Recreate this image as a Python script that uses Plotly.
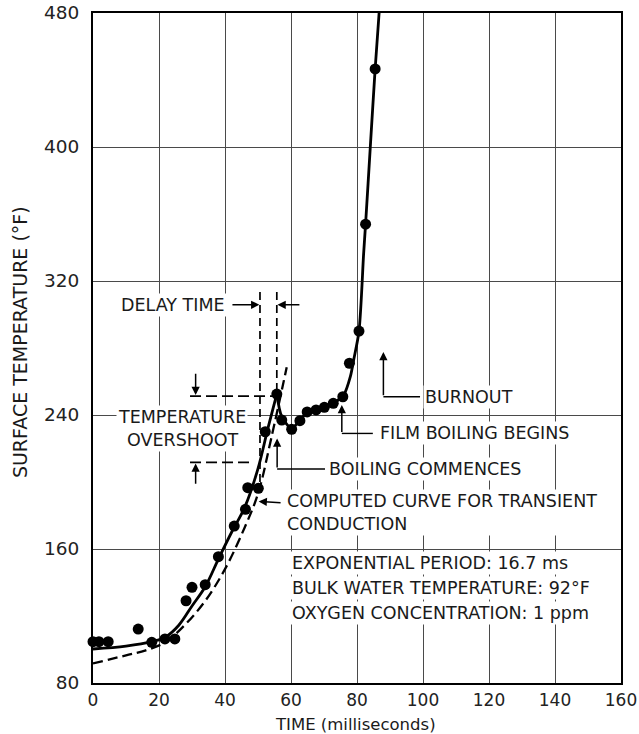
import plotly.graph_objects as go

# ---- data ----
x_ticks = [0, 20, 40, 60, 80, 100, 120, 140, 160]
y_ticks = [80, 160, 240, 320, 400, 480]

pts_x = [0.0, 1.8, 4.6, 13.7, 17.8, 21.8, 24.8, 28.2, 30.0, 34.0, 38.0, 42.8, 46.2, 46.9,
         50.1, 52.2, 55.7, 57.2, 60.2, 62.7, 64.9, 67.6, 70.1, 72.8, 75.7, 77.7, 80.6, 82.6, 85.5]
pts_y = [104.7, 104.7, 104.7, 112.2, 104.3, 106.3, 106.3, 129.1, 137.1, 138.7, 155.4, 173.7, 183.7, 196.6,
         196.2, 230.0, 252.5, 237.0, 231.5, 236.6, 241.8, 243.0, 244.6, 247.0, 250.9, 270.9, 290.1, 353.9, 446.6]

rise_x = [0, 10, 18, 22, 26, 30, 34, 38, 42, 46, 50, 53, 55.7]
rise_y = [100.3, 102, 104.8, 107.5, 114.5, 126, 137.5, 154, 170, 185, 208, 232, 252.5]

post_x = [55.7, 57.2, 60.2, 62.7, 65, 70, 74, 76, 78, 79, 80.6, 82, 82.6, 84, 85.5, 86.7]
post_y = [252.5, 239, 232, 237, 241.5, 245, 248.5, 252, 263, 273, 290, 336, 354, 399, 446.6, 480]

comp_x = [0, 10, 16, 22, 28, 34, 40, 46, 50, 54, 58.7]
comp_y = [91.7, 96.5, 99.5, 104.5, 115, 129, 148, 173, 193, 226, 268.5]

FONT = "DejaVu Sans"
TXT = "#1a1a1a"
FS = 17.5

fig = go.Figure()

fig.add_trace(go.Scatter(x=comp_x, y=comp_y, mode="lines",
                         line=dict(color="black", width=2.3, dash="10px,5px", shape="spline"),
                         showlegend=False, hoverinfo="skip"))
fig.add_trace(go.Scatter(x=rise_x, y=rise_y, mode="lines",
                         line=dict(color="black", width=2.8, shape="spline"),
                         showlegend=False, hoverinfo="skip"))
fig.add_trace(go.Scatter(x=post_x, y=post_y, mode="lines",
                         line=dict(color="black", width=2.8, shape="spline", smoothing=0.8),
                         showlegend=False, hoverinfo="skip"))
fig.add_trace(go.Scatter(x=pts_x, y=pts_y, mode="markers",
                         marker=dict(color="black", size=11), cliponaxis=False,
                         showlegend=False, hoverinfo="skip"))

shapes = []
def seg(x0, y0, x1, y1, dash="solid", w=1.4):
    shapes.append(dict(type="line", xref="x", yref="y", x0=x0, y0=y0, x1=x1, y1=y1,
                       line=dict(color="black", width=w, dash=dash)))

# delay time verticals
seg(50.6, 313.4, 50.6, 198, dash="8px,5px", w=1.7)
seg(55.7, 313.4, 55.7, 253, dash="8px,5px", w=1.7)
# overshoot horizontals
seg(29.4, 251.3, 55.7, 251.3, dash="11px,5px", w=1.7)
seg(29.4, 211.7, 47.6, 211.7, dash="11px,5px", w=1.7)
# L-shaped leader horizontals
seg(55.8, 207.8, 70.3, 207.8)
seg(75.4, 229.0, 84.8, 229.0)
seg(88.0, 250.9, 99.1, 250.9)

annotations = []
def arrow(x, y, ax, ay):
    annotations.append(dict(x=x, y=y, ax=ax, ay=ay, xref="x", yref="y", axref="x", ayref="y",
                            text="", showarrow=True, arrowhead=2, arrowsize=1.1,
                            arrowwidth=1.5, arrowcolor="black"))

def label(x, y, text, xanchor="left", yanchor="middle", align="left"):
    annotations.append(dict(x=x, y=y, xref="x", yref="y", text=text, showarrow=False,
                            xanchor=xanchor, yanchor=yanchor, align=align, bgcolor="white", borderpad=1,
                            font=dict(family=FONT, size=FS, color=TXT)))

arrow(50.4, 305.8, 41.8, 305.8)
arrow(55.9, 305.8, 63.0, 305.8)
arrow(31.1, 252.0, 31.1, 265.5)
arrow(31.1, 211.0, 31.1, 198.0)
arrow(55.8, 226.0, 55.8, 207.8)
arrow(75.4, 246.0, 75.4, 229.0)
arrow(88.0, 277.6, 88.0, 250.9)
arrow(50.2, 188.4, 57.3, 187.5)

label(40.6, 305.5, "DELAY TIME", "right")
label(26.9, 231.8, "TEMPERATURE<br>OVERSHOOT", "center", align="center")
label(70.9, 207.8, "BOILING COMMENCES")
label(86.4, 229.0, "FILM BOILING BEGINS")
label(100.0, 250.9, "BURNOUT")
label(58.2, 182.0, "COMPUTED CURVE FOR TRANSIENT<br>CONDUCTION")
label(59.7, 151.7, "EXPONENTIAL PERIOD: 16.7 ms")
label(59.7, 136.9, "BULK WATER TEMPERATURE: 92°F")
label(59.7, 121.8, "OXYGEN CONCENTRATION: 1 ppm")

annotations.append(dict(x=-0.138, y=0.509, xref="paper", yref="paper", text="SURFACE TEMPERATURE (°F)",
                        textangle=-90, showarrow=False, xanchor="center", yanchor="middle",
                        font=dict(family=FONT, size=19, color=TXT)))
annotations.append(dict(x=0.498, y=-0.0625, xref="paper", yref="paper", text="TIME (milliseconds)",
                        showarrow=False, xanchor="center", yanchor="middle",
                        font=dict(family=FONT, size=16.5, color=TXT)))

axis_common = dict(showgrid=True, gridcolor="#4a4a4a", gridwidth=1, showline=True, mirror=True,
                   linecolor="black", linewidth=2, ticks="", zeroline=False)

fig.update_layout(
    width=639, height=734, margin=dict(l=93, r=18, t=13, b=51),
    paper_bgcolor="white", plot_bgcolor="white", template="none",
    xaxis=dict(range=[0, 160], tickvals=x_ticks, ticklabelstandoff=1,
               tickfont=dict(family=FONT, size=17, color="#222"), **axis_common),
    yaxis=dict(range=[80, 480], tickvals=y_ticks, ticklabelstandoff=8,
               tickfont=dict(family=FONT, size=18.5, color="#222"), **axis_common),
    shapes=shapes, annotations=annotations, showlegend=False,
)

fig.write_html("out.html")
